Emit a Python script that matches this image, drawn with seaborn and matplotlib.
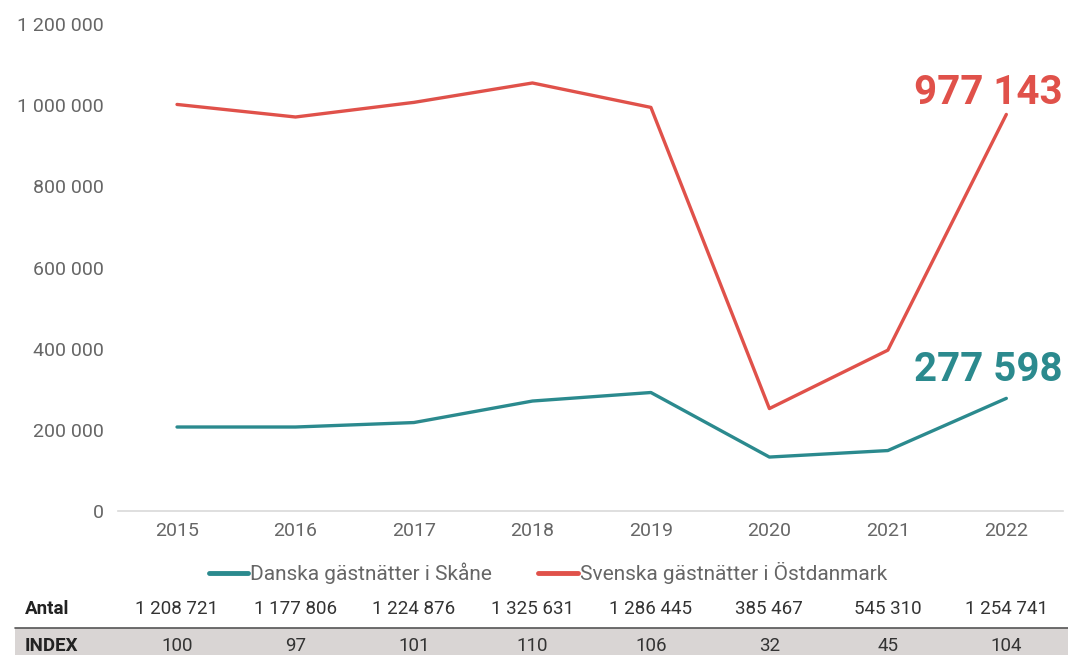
import numpy as np
import pandas as pd
import matplotlib.pyplot as plt
import seaborn as sns
from matplotlib.patches import Rectangle
from matplotlib.lines import Line2D

years = [2015, 2016, 2017, 2018, 2019, 2020, 2021, 2022]
danska = [207000, 207000, 218000, 271000, 292000, 133000, 149000, 277598]
svenska = [1001721, 970806, 1006876, 1054631, 994445, 252467, 396310, 977143]
antal = ['1 208 721', '1 177 806', '1 224 876', '1 325 631', '1 286 445',
         '385 467', '545 310', '1 254 741']
index_vals = ['100', '97', '101', '110', '106', '32', '45', '104']
series_names = ['Danska gästnätter i Skåne', 'Svenska gästnätter i Östdanmark']

teal = '#2b8a8e'
red = '#e0514a'
grey_txt = '#666666'

df = pd.DataFrame({
    'pos': list(range(len(years))) * 2,
    'value': danska + svenska,
    'serie': [series_names[0]] * len(years) + [series_names[1]] * len(years),
})

sns.set_style('white')
plt.rcParams['font.family'] = ['Roboto', 'DejaVu Sans']

fig = plt.figure(figsize=(10.68, 6.55), dpi=100)
ax = fig.add_axes([0.1105, 0.2198, 0.885, 0.7436])

sns.lineplot(data=df, x='pos', y='value', hue='serie', palette=[teal, red],
             linewidth=2.4, sort=False, legend=False, ax=ax)

ax.set_xlim(-0.498, 7.48)
ax.set_ylim(0, 1200000)
ax.set_yticks(np.arange(0, 1200001, 200000))
ax.set_yticklabels([f'{int(v):,}'.replace(',', ' ') for v in np.arange(0, 1200001, 200000)])
ax.set_xticks(range(len(years)))
ax.set_xticklabels([str(y) for y in years])
ax.tick_params(axis='both', labelsize=14, colors=grey_txt, length=0)
ax.tick_params(axis='y', pad=10)
ax.tick_params(axis='x', pad=8)
ax.set_xlabel('')
ax.set_ylabel('')
for s in ['top', 'right', 'left']:
    ax.spines[s].set_visible(False)
ax.spines['bottom'].set_color('#d9d9d9')
ax.spines['bottom'].set_linewidth(1.2)

# end labels, right aligned at the figure edge
ax.annotate('977 143', xy=(1063 / 1068, 1 - 104 / 655), xycoords='figure fraction',
            ha='right', va='baseline', fontsize=29, fontweight='bold', color=red)
ax.annotate('277 598', xy=(1063 / 1068, 1 - 381 / 655), xycoords='figure fraction',
            ha='right', va='baseline', fontsize=29, fontweight='bold', color=teal)

# legend
handles = [Line2D([], [], color=teal, lw=3.5), Line2D([], [], color=red, lw=3.5)]
leg = fig.legend(handles, series_names, loc='center', bbox_to_anchor=(0.513, 0.125),
                 ncol=2, frameon=False, fontsize=15, handlelength=1.9,
                 handletextpad=0.1, columnspacing=2.2)
for t in leg.get_texts():
    t.set_color(grey_txt)

# table below
fig.patches.append(Rectangle((0.014, 0.0), 0.986, 1 - 628 / 655, transform=fig.transFigure,
                             facecolor='#d9d5d4', edgecolor='none', zorder=0))
fig.add_artist(Line2D([0.014, 1.0], [1 - 627.5 / 655] * 2, transform=fig.transFigure,
                      color='#555555', lw=1.2))
y_antal = 1 - 609 / 655
y_index = 1 - 646 / 655
fig.text(0.023, y_antal, 'Antal', fontsize=13.5, fontweight='bold', color='#222222', va='center')
fig.text(0.023, y_index, 'INDEX', fontsize=13.5, fontweight='bold', color='#222222', va='center')
for i in range(len(years)):
    xf = fig.transFigure.inverted().transform(ax.transData.transform((i, 0)))[0]
    fig.text(xf, y_antal, antal[i], fontsize=13.5, color='#333333', ha='center', va='center')
    fig.text(xf, y_index, index_vals[i], fontsize=13.5, color='#333333', ha='center', va='center')

fig.savefig('out.png', dpi=100)
